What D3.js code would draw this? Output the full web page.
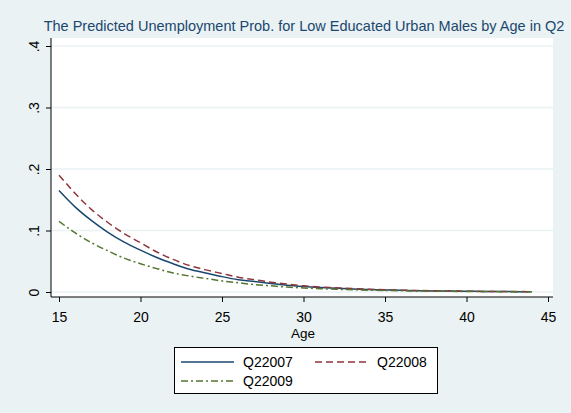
<!DOCTYPE html>
<html><head><meta charset="utf-8">
<script src="https://cdn.jsdelivr.net/npm/d3@7"></script>
<style>body{margin:0;background:#EAF2F3;} svg{display:block;font-family:"Liberation Sans",Arial,sans-serif;}</style>
</head><body>
<script>
const ages = [15,16,17,18,19,20,21,22,23,24,25,26,27,28,29,30,31,32,33,34,35,36,37,38,39,40,41,42,43,44];
const q22007 = [.165,.138,.116,.097,.081,.068,.056,.046,.037,.031,.025,.020,.017,.014,.011,.009,.0075,.006,.005,.004,.0033,.0027,.0022,.0018,.0015,.0012,.001,.0008,.0006,.0005];
const q22008 = [.190,.160,.134,.113,.095,.080,.065,.053,.043,.036,.030,.024,.020,.016,.013,.010,.0083,.0068,.0055,.0045,.0037,.003,.0024,.002,.0016,.0013,.001,.0008,.0007,.0005];
const q22009 = [.115,.096,.080,.067,.055,.046,.038,.031,.026,.022,.018,.015,.012,.010,.008,.0066,.0054,.0044,.0036,.003,.0024,.002,.0016,.0013,.0011,.0009,.0007,.0006,.0005,.0004];
const xTicks = [15,20,25,30,35,40,45];
const yTicks = [0,.1,.2,.3,.4];
const yTickLabels = ["0",".1",".2",".3",".4"];
const seriesNames = ["Q22007","Q22008","Q22009"];

const W=571,H=413;
const svg=d3.select("body").append("svg").attr("width",W).attr("height",H);
svg.append("rect").attr("width",W).attr("height",H).attr("fill","#EAF2F3");
const px0=51, px1=553, py0=38, py1=297;
svg.append("rect").attr("x",px0).attr("y",py0).attr("width",px1-px0).attr("height",py1-py0).attr("fill","#fff");

const x=d3.scaleLinear().domain([15,45]).range([59,548]);
const y=d3.scaleLinear().domain([0,.4]).range([292,46]);

svg.append("g").selectAll("line").data(yTicks).join("line")
  .attr("x1",px0).attr("x2",px1).attr("y1",d=>y(d)).attr("y2",d=>y(d))
  .attr("stroke","#EAF2F3").attr("stroke-width",1.5);

const colors=["#1A476F","#90353B","#55752F"];
const dashes=[null,"7,4","7,3,2,3"];
const allSeries=[q22007,q22008,q22009];
const line=d3.line().x((d,i)=>x(ages[i])).y(d=>y(d)).curve(d3.curveMonotoneX);
allSeries.forEach((s,k)=>{
  svg.append("path").datum(s).attr("d",line).attr("fill","none")
    .attr("stroke",colors[k]).attr("stroke-width",1.5)
    .attr("stroke-dasharray",dashes[k]);
});

const yAxis=d3.axisLeft(y).tickValues(yTicks).tickSize(5).tickFormat((d,i)=>yTickLabels[i]);
const ya=svg.append("g").attr("transform",`translate(${px0},0)`).call(yAxis);
ya.select(".domain").remove();
ya.append("line").attr("x1",0).attr("x2",0).attr("y1",py0).attr("y2",py1).attr("stroke","#000");
ya.selectAll(".tick line").attr("stroke","#000");
ya.selectAll(".tick text").attr("font-size",14).attr("fill","#000").attr("font-family","Liberation Sans, Arial, sans-serif")
  .attr("text-anchor","middle").attr("x",0).attr("dy",0).attr("y",0)
  .attr("transform","translate(-12,0) rotate(-90)");

const xAxis=d3.axisBottom(x).tickValues(xTicks).tickSize(5);
const xa=svg.append("g").attr("transform",`translate(0,${py1})`).call(xAxis);
xa.select(".domain").remove();
xa.append("line").attr("x1",px0).attr("x2",px1).attr("y1",0).attr("y2",0).attr("stroke","#000");
xa.selectAll(".tick line").attr("stroke","#000");
xa.selectAll(".tick text").attr("font-size",14).attr("fill","#000").attr("font-family","Liberation Sans, Arial, sans-serif")
  .attr("y",25).attr("dy",0);

svg.append("text").attr("x",303).attr("y",338).attr("text-anchor","middle").attr("font-size",13.5).text("Age");

svg.append("text").attr("x",304).attr("y",31).attr("text-anchor","middle").attr("font-size",14.5)
  .attr("fill","#1A476F").text("The Predicted Unemployment Prob. for Low Educated Urban Males by Age in Q2");

const lg=svg.append("g");
lg.append("rect").attr("x",174.5).attr("y",347.5).attr("width",263).attr("height",46).attr("fill","#fff").attr("stroke","#000");
const legPos=[[181,362],[315,362],[181,381]];
seriesNames.forEach((n,k)=>{
  const [lx,ly]=legPos[k];
  lg.append("line").attr("x1",lx).attr("x2",lx+53).attr("y1",ly).attr("y2",ly)
    .attr("stroke",colors[k]).attr("stroke-width",1.5).attr("stroke-dasharray",dashes[k]);
  lg.append("text").attr("x",lx+62).attr("y",ly+5).attr("font-size",14).text(n);
});
</script>
</body></html>
